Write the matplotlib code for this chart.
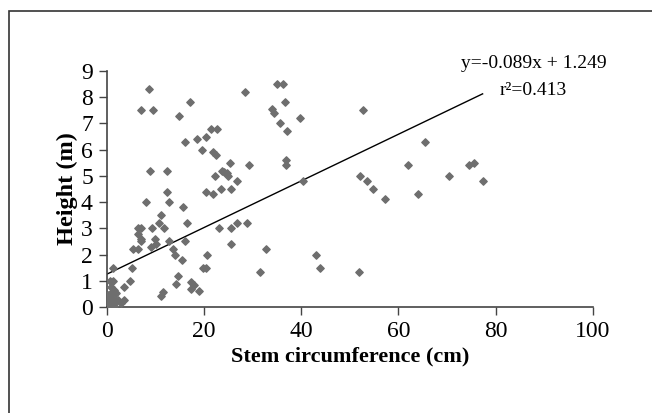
import numpy as np
import matplotlib
matplotlib.use('Agg')
import matplotlib.pyplot as plt
from matplotlib.patches import Rectangle

plt.rcParams['font.family'] = ['Liberation Serif', 'DejaVu Serif']

# stem circumference (cm) and height (m)
circ = [8.6, 7.0, 9.6, 17.1, 14.9, 16.0, 18.5, 20.4, 19.6, 21.4, 22.6, 21.9, 22.5,
        28.4, 35.0, 36.2, 36.7, 34.0, 34.5, 35.7, 37.0, 39.8, 36.8, 36.9, 52.7, 65.5,
        29.3, 25.4, 23.8, 24.2, 24.7, 25.0, 22.3, 26.8, 25.5, 23.5, 20.5, 21.8, 40.4,
        52.1, 53.5, 54.7, 57.2, 62.0, 64.1, 70.4, 74.5, 75.5, 77.3, 9.0, 12.4, 12.4,
        8.1, 12.9, 15.6, 11.1, 10.8, 11.7, 9.4, 16.6, 6.4, 7.0, 6.4, 7.1, 7.1, 9.9,
        10.2, 9.1, 12.9, 13.7, 14.0, 15.5, 16.0, 14.6, 14.2, 17.4, 18.0, 17.3, 19.0,
        11.5, 11.1, 19.9, 20.4, 20.6, 5.5, 6.5, 5.1, 4.7, 3.6, 23.1, 25.5, 26.7, 28.8,
        25.5, 31.6, 32.7, 43.0, 43.9, 51.8, 1.2, 0.7, 1.2, 0.9, 1.0, 1.5, 0.3, 0.6,
        0.3, 0.0, 1.0, 1.7, 2.3, 2.9, 3.6, 1.5, 0.8, 0.3, 1.9, 0.5, 1.3]
height = [8.3, 7.5, 7.5, 7.8, 7.3, 6.3, 6.4, 6.5, 6.0, 6.8, 6.8, 5.9, 5.8,
          8.2, 8.5, 8.5, 7.8, 7.55, 7.4, 7.0, 6.7, 7.2, 5.6, 5.4, 7.5, 6.3,
          5.4, 5.5, 5.2, 5.15, 5.1, 5.0, 5.0, 4.8, 4.5, 4.5, 4.4, 4.3, 4.8,
          5.0, 4.8, 4.5, 4.1, 5.4, 4.3, 5.0, 5.4, 5.5, 4.8, 5.2, 5.2, 4.4,
          4.0, 4.0, 3.8, 3.5, 3.2, 3.0, 3.0, 3.2, 3.0, 3.0, 2.8, 2.6, 2.5, 2.6,
          2.4, 2.3, 2.5, 2.2, 2.0, 1.8, 2.5, 1.2, 0.87, 0.96, 0.85, 0.7, 0.6,
          0.57, 0.4, 1.5, 1.5, 2.0, 2.2, 2.2, 1.5, 1.0, 0.75, 3.0, 3.0, 3.2, 3.2,
          2.4, 1.35, 2.2, 2.0, 1.5, 1.33, 1.5, 1.0, 1.0, 0.75, 0.57, 0.63, 0.45, 0.3,
          0.16, 0.1, 0.25, 0.2, 0.25, 0.16, 0.25, 0.05, 0.1, 0.0, 0.55, 0.2, 0.35]

slope = 0.089
intercept = 1.249
fit_range = [0, 77.3]

fig = plt.figure(figsize=(6.52, 4.13), dpi=100)
ax = fig.add_axes([0.1637, 0.2567, 0.7458, 0.5714])

ax.scatter(circ, height, marker='D', s=14, color='#6e6e6e', zorder=3)
xf = np.array(fit_range)
ax.plot(xf, slope * xf + intercept, color='black', lw=1.0)

ax.set_xlim(0, 100)
ax.set_ylim(0, 9)
ax.set_xticks([0, 20, 40, 60, 80, 100])
ax.set_yticks(range(10))
ax.tick_params(labelsize=17, length=6, width=1, direction='out', color='#444444', pad=4)
ax.spines['top'].set_visible(False)
ax.spines['right'].set_visible(False)
for s in ['left', 'bottom']:
    ax.spines[s].set_color('#444444')
    ax.spines[s].set_linewidth(1.2)

ax.set_xlabel('Stem circumference (cm)', fontsize=16, fontweight='bold', labelpad=3)
ax.set_ylabel('Height (m)', fontsize=17.5, fontweight='bold', labelpad=2)

fig.text(0.818, 0.847, 'y=-0.089x + 1.249', fontsize=14, ha='center', va='center')
fig.text(0.818, 0.780, 'r²=0.413', fontsize=14, ha='center', va='center')

fig.patches.append(Rectangle((9 / 652, -0.05), 1.0, 1 - 11 / 413 + 0.05,
                             transform=fig.transFigure, fill=False,
                             edgecolor='#333333', lw=1.2))

fig.savefig('out.png', dpi=100)
